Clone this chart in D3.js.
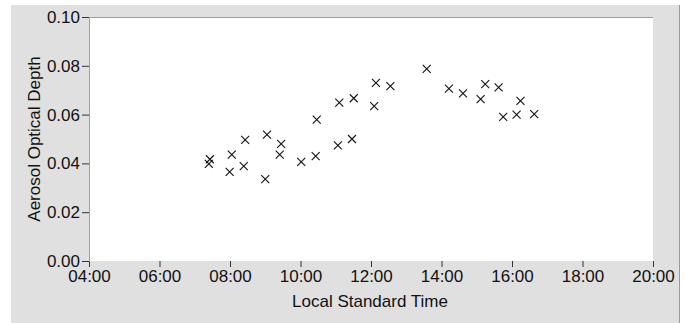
<!DOCTYPE html>
<html>
<head>
<meta charset="utf-8">
<script src="https://cdn.jsdelivr.net/npm/d3@7/dist/d3.min.js"></script>
<style>
  html, body { margin: 0; padding: 0; background: #ffffff; }
  svg { display: block; }
  text { font-family: "Liberation Sans", Arial, sans-serif; fill: #111; }
</style>
</head>
<body>
<svg id="chart" width="686" height="323"></svg>
<script>
// Local standard time in decimal hours
const timesHours = [7.40, 7.43, 7.99, 8.05, 8.39, 8.43, 9.00, 9.05, 9.41, 9.45,
                    10.02, 10.43, 10.46, 11.06, 11.10, 11.46, 11.51, 12.09, 12.14, 12.55,
                    13.58, 14.21, 14.61, 15.11, 15.24, 15.62, 15.75, 16.13, 16.24, 16.63];
const aodValues = [0.0398, 0.0417, 0.0365, 0.0436, 0.0389, 0.0496, 0.0336, 0.0518, 0.0436, 0.0480,
                   0.0406, 0.0430, 0.0579, 0.0474, 0.0649, 0.0500, 0.0667, 0.0635, 0.0730, 0.0717,
                   0.0787, 0.0706, 0.0687, 0.0663, 0.0725, 0.0712, 0.0591, 0.0600, 0.0656, 0.0602];
const xTickHours = [4, 6, 8, 10, 12, 14, 16, 18, 20];
const yTicks = [0.00, 0.02, 0.04, 0.06, 0.08, 0.10];
const xTitle = "Local Standard Time";
const yTitle = "Aerosol Optical Depth";

const svg = d3.select("#chart");
const plot = { left: 89, right: 653, top: 17, bottom: 261 };

// grey panel
svg.append("rect").attr("x", 11).attr("y", 5).attr("width", 668).attr("height", 318).attr("fill", "#e0e0e0");
svg.append("line").attr("x1", 679.5).attr("x2", 679.5).attr("y1", 5).attr("y2", 323).attr("stroke", "#9a9a9a").attr("stroke-width", 1);

// plot area
svg.append("rect").attr("x", plot.left).attr("y", plot.top)
  .attr("width", plot.right - plot.left).attr("height", plot.bottom - plot.top).attr("fill", "#ffffff");

const x = d3.scaleLinear().domain([4, 20]).range([plot.left, plot.right]);
const y = d3.scaleLinear().domain([0, 0.10]).range([plot.bottom, plot.top]);

const fmtTime = h => String(Math.floor(h)).padStart(2, "0") + ":" + String(Math.round((h % 1) * 60)).padStart(2, "0");

// top border line
svg.append("line").attr("x1", plot.left).attr("x2", plot.right)
  .attr("y1", plot.top + 0.5).attr("y2", plot.top + 0.5).attr("stroke", "#a0a0a0");

// x axis
const xAxis = svg.append("g").attr("transform", `translate(0,${plot.bottom})`)
  .call(d3.axisBottom(x).tickValues(xTickHours).tickFormat(fmtTime).tickSize(6).tickPadding(3));
xAxis.select(".domain").remove();
xAxis.selectAll(".tick line").attr("stroke", "#333");
xAxis.selectAll(".tick text").attr("font-size", 17).attr("fill", "#111").style("font-family", "Liberation Sans, Arial, sans-serif");

// y axis
const yAxis = svg.append("g").attr("transform", `translate(${plot.left},0)`)
  .call(d3.axisLeft(y).tickValues(yTicks).tickFormat(d3.format(".2f")).tickSize(7).tickPadding(2));
yAxis.select(".domain").attr("stroke", "#a0a0a0");
yAxis.selectAll(".tick line").attr("stroke", "#333");
yAxis.selectAll(".tick text").attr("font-size", 17).attr("fill", "#111").style("font-family", "Liberation Sans, Arial, sans-serif");

// titles
svg.append("text").attr("x", (plot.left + plot.right) / 2 - 1).attr("y", 307)
  .attr("text-anchor", "middle").attr("font-size", 17).text(xTitle);
svg.append("text").attr("transform", `translate(40,${(plot.top + plot.bottom) / 2}) rotate(-90)`)
  .attr("text-anchor", "middle").attr("font-size", 17).text(yTitle);

// markers
const data = timesHours.map((t, i) => ({ t, v: aodValues[i] }));
const s = 4;
svg.append("g").selectAll("path").data(data).join("path")
  .attr("d", d => {
    const cx = x(d.t), cy = y(d.v);
    return `M${cx - s},${cy - s}L${cx + s},${cy + s}M${cx - s},${cy + s}L${cx + s},${cy - s}`;
  })
  .attr("stroke", "#111").attr("stroke-width", 1.1).attr("fill", "none");
</script>
</body>
</html>
